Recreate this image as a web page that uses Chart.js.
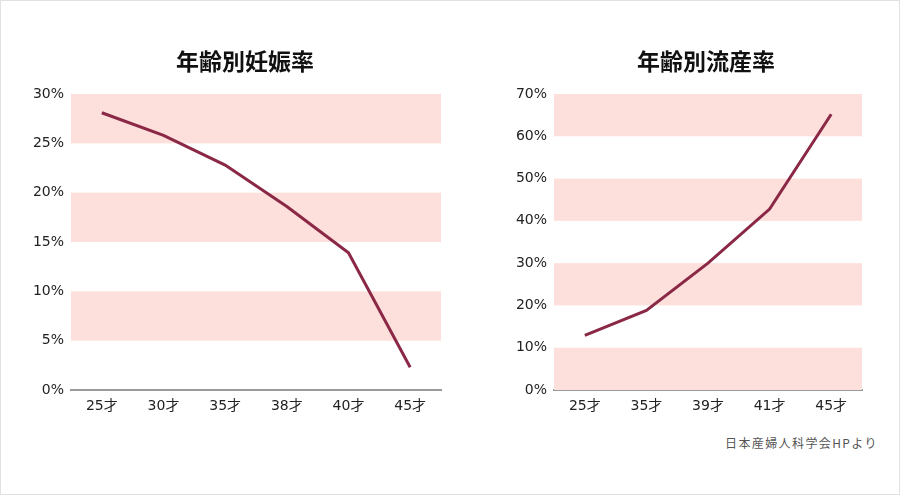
<!DOCTYPE html>
<html lang="ja">
<head>
<meta charset="utf-8">
<title>年齢別妊娠率・流産率</title>
<script src="https://cdn.jsdelivr.net/npm/chart.js@4/dist/chart.umd.min.js"></script>
<style>
  html, body { margin: 0; padding: 0; background: #fff; }
  #frame {
    position: relative; width: 900px; height: 495px;
    box-sizing: border-box; border: 1px solid #e2e2e2; overflow: hidden;
  }
  .chart-box { position: absolute; top: 30px; height: 400px; }
  #box-preg { left: 28px; width: 432px; }
  #box-misc { left: 510px; width: 390px; }
  #source {
    position: absolute; left: 724px; top: 433px;
    font: 12px "Noto Sans CJK JP", sans-serif; letter-spacing: 1.4px; color: #555;
  }
</style>
</head>
<body>
<div id="frame">
  <div class="chart-box" id="box-preg"><canvas id="chart-preg"></canvas></div>
  <div class="chart-box" id="box-misc"><canvas id="chart-misc"></canvas></div>
  <div id="source">日本産婦人科学会HPより</div>
</div>
<script>
// ===== データ =====
const pregAges  = ['25才', '30才', '35才', '38才', '40才', '45才'];
const pregRate  = [28.1, 25.8, 22.8, 18.6, 13.9, 2.3];

const miscAges  = ['25才', '35才', '39才', '41才', '45才'];
const miscRate  = [12.9, 18.8, 30.0, 42.8, 65.2];

const LINE_COLOR = '#8a2846';
const BAND_COLOR = '#fde0dc';
const TITLE_FONT = '"Noto Sans CJK JP", sans-serif';
const TICK_FONT  = '"DejaVu Sans", "Noto Sans CJK JP", sans-serif';

// 目盛り間を上から交互にピンクで塗る
const bandPlugin = {
  id: 'bands',
  beforeDatasetsDraw(chart) {
    const { ctx, chartArea, scales } = chart;
    const y = scales.y;
    const vals = y.ticks.map(t => t.value).sort((a, b) => b - a);
    ctx.save();
    ctx.fillStyle = BAND_COLOR;
    for (let k = 0; k < vals.length - 1; k++) {
      if (k % 2) continue;
      const top = y.getPixelForValue(vals[k]);
      const bot = y.getPixelForValue(vals[k + 1]);
      ctx.fillRect(chartArea.left, top, chartArea.right - chartArea.left, bot - top);
    }
    ctx.restore();
  }
};

// タイトル（中心位置を指定して描く）
const titlePlugin = {
  id: 'sideTitle',
  afterDraw(chart, args, opts) {
    const { ctx } = chart;
    ctx.save();
    ctx.font = 'bold 23px ' + TITLE_FONT;
    ctx.fillStyle = '#111';
    ctx.textAlign = 'center';
    ctx.textBaseline = 'middle';
    ctx.fillText(opts.text, opts.x, opts.y);
    ctx.restore();
  }
};

function makeChart(canvasId, title, titleX, labels, data, max, step, padRight, axisW) {
  return new Chart(document.getElementById(canvasId), {
    type: 'line',
    data: {
      labels,
      datasets: [{
        data,
        borderColor: LINE_COLOR,
        borderWidth: 3,
        pointRadius: 0,
        tension: 0,
        borderCapStyle: 'butt'
      }]
    },
    options: {
      responsive: true,
      maintainAspectRatio: false,
      animation: false,
      layout: { padding: { left: 0, right: padRight, top: 63, bottom: 0 } },
      plugins: {
        legend: { display: false },
        tooltip: { enabled: false },
        title: { display: false },
        sideTitle: { text: title, x: titleX, y: 30 }
      },
      scales: {
        x: {
          offset: true,
          grid: { display: false, drawTicks: false },
          border: { display: true, color: '#9a9a9a', width: 2 },
          ticks: { color: '#222', font: { family: TICK_FONT, size: 14 }, padding: 8 },
          afterFit: s => { s.height = 41; }
        },
        y: {
          min: 0, max,
          grid: { display: false, drawTicks: false },
          border: { display: false },
          ticks: {
            stepSize: step,
            color: '#222',
            font: { family: TICK_FONT, size: 14 },
            padding: 7,
            callback: v => v + '%'
          },
          afterFit: s => { s.width = axisW; }
        }
      }
    },
    plugins: [bandPlugin, titlePlugin]
  });
}

makeChart('chart-preg', '年齢別妊娠率', 216, pregAges, pregRate, 30, 5, 20, 42);
makeChart('chart-misc', '年齢別流産率', 195, miscAges, miscRate, 70, 10, 39, 43);
</script>
</body>
</html>
